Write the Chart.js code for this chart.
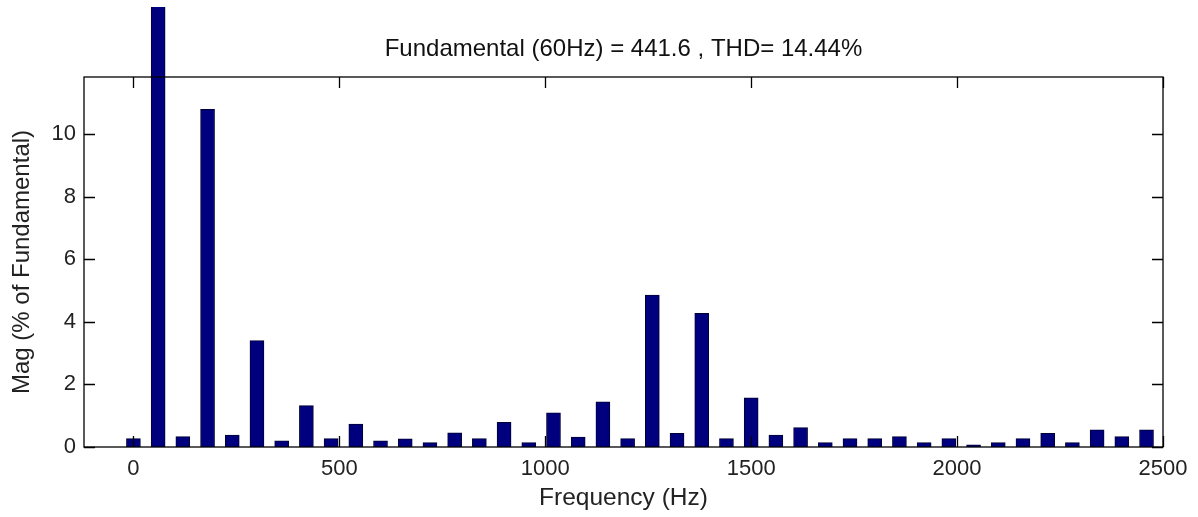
<!DOCTYPE html>
<html>
<head>
<meta charset="utf-8">
<script src="https://cdn.jsdelivr.net/npm/chart.js@4"></script>
<style>
  html, body { margin: 0; padding: 0; background: #fff; }
  #wrap { width: 1198px; height: 517px; }
</style>
</head>
<body>
<div id="wrap"><canvas id="fft"></canvas></div>
<script>
// harmonic frequencies (Hz) and magnitudes (% of fundamental)
const freqs = [0, 60, 120, 180, 240, 300, 360, 420, 480, 540, 600, 660, 720, 780,
  840, 900, 960, 1020, 1080, 1140, 1200, 1260, 1320, 1380, 1440, 1500, 1560, 1620,
  1680, 1740, 1800, 1860, 1920, 1980, 2040, 2100, 2160, 2220, 2280, 2340, 2400, 2460];
const mags = [0.27, 100, 0.33, 10.79, 0.38, 3.40, 0.20, 1.32, 0.27, 0.73, 0.20, 0.26, 0.14, 0.45,
  0.27, 0.79, 0.14, 1.09, 0.32, 1.44, 0.27, 4.85, 0.44, 4.27, 0.27, 1.57, 0.38, 0.62,
  0.14, 0.27, 0.27, 0.33, 0.14, 0.27, 0.07, 0.14, 0.27, 0.44, 0.14, 0.55, 0.33, 0.55];
const xTicks = [0, 500, 1000, 1500, 2000, 2500];
const yTicks = [0, 2, 4, 6, 8, 10];

const titleText = "Fundamental (60Hz) = 441.6 , THD= 14.44%";
const font = "'Liberation Sans', Arial, sans-serif";

// MATLAB style box with inward ticks on all four sides, plus the title over the axes
const boxPlugin = {
  id: "box",
  afterDatasetsDraw(chart) {
    const { ctx, chartArea: a, scales } = chart;
    const len = 11;
    ctx.save();
    ctx.strokeStyle = "#000";
    ctx.lineWidth = 1.3;
    ctx.strokeRect(a.left, a.top, a.right - a.left, a.bottom - a.top);
    ctx.beginPath();
    xTicks.forEach(v => {
      const x = Math.round(scales.x.getPixelForValue(v)) + 0.5;
      ctx.moveTo(x, a.bottom); ctx.lineTo(x, a.bottom - len);
      ctx.moveTo(x, a.top); ctx.lineTo(x, a.top + len);
    });
    yTicks.forEach(v => {
      const y = Math.round(scales.y.getPixelForValue(v)) + 0.5;
      ctx.moveTo(a.left, y); ctx.lineTo(a.left + len, y);
      ctx.moveTo(a.right, y); ctx.lineTo(a.right - len, y);
    });
    ctx.stroke();

    ctx.fillStyle = "#111";
    ctx.font = "24px " + font;
    ctx.textAlign = "center";
    ctx.textBaseline = "middle";
    ctx.fillText(titleText, (a.left + a.right) / 2, 49);
    ctx.restore();
  }
};

new Chart(document.getElementById("fft"), {
  type: "bar",
  data: {
    datasets: [{
      data: freqs.map((f, i) => ({ x: f, y: mags[i] })),
      backgroundColor: "#00007f",
      borderColor: "#000033",
      borderWidth: 1,
      barThickness: 14,
      clip: { left: 0, top: 70, right: 0, bottom: 0 }
    }]
  },
  options: {
    responsive: true,
    maintainAspectRatio: false,
    animation: false,
    layout: { padding: { left: 0, right: 35, top: 77, bottom: 0 } },
    plugins: {
      legend: { display: false },
      tooltip: { enabled: false },
      title: { display: false }
    },
    scales: {
      x: {
        type: "linear",
        min: -120,
        max: 2500,
        offset: false,
        bounds: "ticks",
        grid: { display: false, drawTicks: false, offset: false },
        border: { display: false },
        afterBuildTicks: s => { s.ticks = xTicks.map(v => ({ value: v })); },
        afterDataLimits: s => { s.min = -120; s.max = 2500; },
        afterFit: s => { s.height = 70; },
        ticks: {
          color: "#222",
          padding: 9,
          maxRotation: 0,
          callback: v => String(v),
          font: { family: font, size: 22 }
        },
        title: {
          display: true,
          text: "Frequency (Hz)",
          color: "#222",
          font: { family: font, size: 24.5 },
          padding: { top: 4, bottom: 4 }
        }
      },
      y: {
        min: 0,
        max: 11.82,
        grid: { display: false, drawTicks: false },
        border: { display: false },
        afterBuildTicks: s => { s.ticks = yTicks.map(v => ({ value: v })); },
        afterFit: s => { s.width = 84; },
        ticks: {
          color: "#222",
          padding: 8,
          font: { family: font, size: 22 }
        },
        title: {
          display: true,
          text: "Mag (% of Fundamental)",
          color: "#222",
          font: { family: font, size: 24 },
          padding: { top: 8, bottom: 4 }
        }
      }
    }
  },
  plugins: [boxPlugin]
});
</script>
</body>
</html>
